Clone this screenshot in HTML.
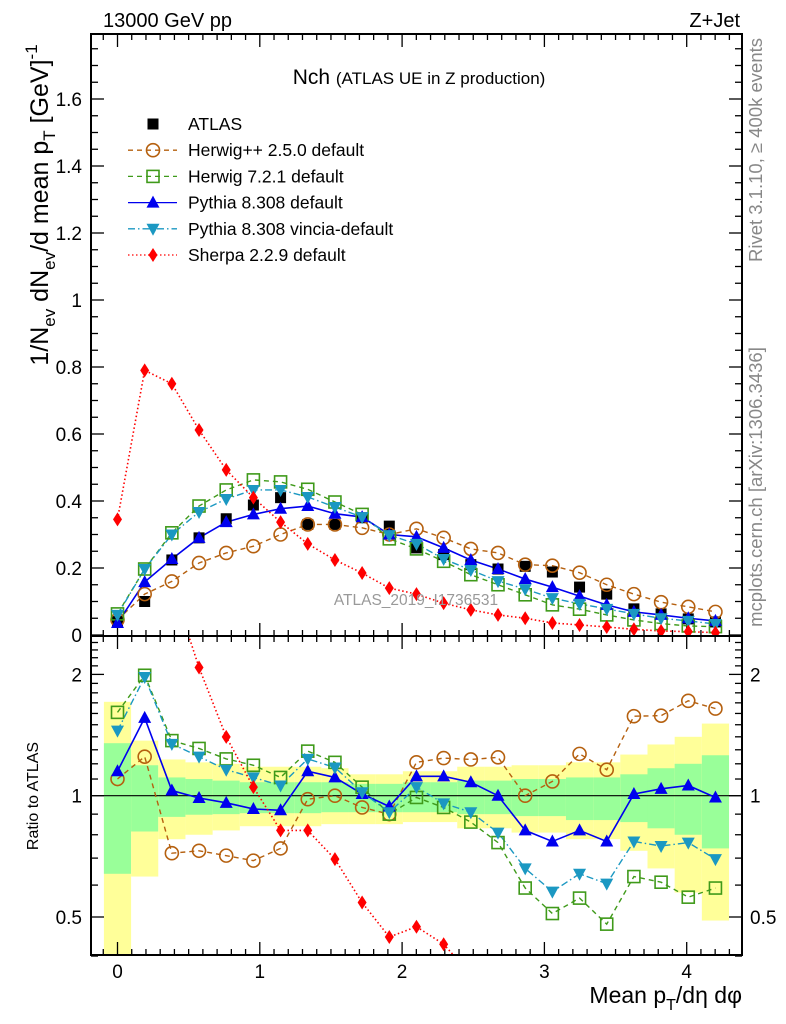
<!DOCTYPE html>
<html><head><meta charset="utf-8"><style>
html,body{margin:0;padding:0;background:#fff;overflow:hidden;width:786px;height:1024px;}
svg{display:block;font-family:"Liberation Sans",Arial,sans-serif;}
</style></head><body>
<svg id="chart" width="786" height="1024" viewBox="0 0 786 1024" xmlns="http://www.w3.org/2000/svg">
<defs>
<clipPath id="clipMain"><rect x="91" y="34" width="651" height="602"/></clipPath>
<clipPath id="clipRatio"><rect x="91" y="636" width="651" height="319"/></clipPath>
</defs>
<g id="bands" clip-path="url(#clipRatio)"></g>
<g id="ticks"></g>
<line x1="91" x2="742" y1="795.7" y2="795.7" stroke="#000" stroke-width="1.2"/>
<g id="series"></g>
<rect x="91" y="34" width="651" height="602" fill="none" stroke="#000" stroke-width="2"/>
<rect x="91" y="636" width="651" height="319" fill="none" stroke="#000" stroke-width="2"/>
<text x="103" y="27" font-size="20">13000 GeV pp</text>
<text x="740" y="27" font-size="20" text-anchor="end">Z+Jet</text>
<text x="419" y="84" font-size="21" text-anchor="middle">Nch <tspan font-size="17">(ATLAS UE in Z production)</tspan></text>
<text x="416" y="605" font-size="15.5" fill="#999" text-anchor="middle">ATLAS_2019_I1736531</text>
<text transform="translate(762,150) rotate(-90)" font-size="18.5" fill="#888" text-anchor="middle">Rivet 3.1.10, ≥ 400k events</text>
<text transform="translate(762,487) rotate(-90)" font-size="18.5" fill="#888" text-anchor="middle">mcplots.cern.ch [arXiv:1306.3436]</text>
<text transform="translate(48,205) rotate(-90)" font-size="25" text-anchor="middle">1/N<tspan font-size="17" dy="7">ev</tspan><tspan dy="-7"> dN</tspan><tspan font-size="17" dy="7">ev</tspan><tspan dy="-7">/d mean p</tspan><tspan font-size="17" dy="7">T</tspan><tspan dy="-7"> [GeV]</tspan><tspan font-size="17" dy="-11">-1</tspan></text>
<text transform="translate(38,796) rotate(-90)" font-size="16" text-anchor="middle">Ratio to ATLAS</text>
<text x="742" y="1003" font-size="23" text-anchor="end">Mean p<tspan font-size="16" dy="7">T</tspan><tspan dy="-7">/dη dφ</tspan></text>
<g id="legend"></g>
</svg>
<script>
const xVals=[0,0.191,0.382,0.573,0.764,0.955,1.146,1.337,1.528,1.719,1.91,2.101,2.292,2.483,2.674,2.865,3.056,3.247,3.438,3.629,3.82,4.011,4.202];
const atlas=[0.04,0.10,0.224,0.29,0.347,0.388,0.41,0.33,0.33,0.35,0.325,0.26,0.24,0.21,0.197,0.205,0.188,0.143,0.122,0.078,0.063,0.048,0.039];
const herwigpp=[0.045,0.122,0.16,0.215,0.245,0.265,0.30,0.33,0.33,0.32,0.30,0.317,0.29,0.257,0.245,0.21,0.207,0.186,0.15,0.122,0.098,0.084,0.069];
const herwig7=[0.063,0.197,0.305,0.385,0.433,0.463,0.457,0.435,0.397,0.36,0.287,0.257,0.22,0.18,0.15,0.12,0.09,0.077,0.06,0.045,0.034,0.027,0.025];
const pythia=[0.036,0.158,0.227,0.29,0.337,0.36,0.377,0.385,0.362,0.352,0.30,0.293,0.26,0.224,0.197,0.167,0.143,0.116,0.09,0.069,0.06,0.05,0.042];
const vincia=[0.06,0.197,0.30,0.367,0.406,0.433,0.433,0.412,0.382,0.352,0.298,0.272,0.227,0.194,0.161,0.137,0.11,0.093,0.078,0.063,0.05,0.042,0.033];
const sherpa=[0.345,0.79,0.75,0.612,0.493,0.41,0.337,0.272,0.224,0.185,0.14,0.122,0.095,0.075,0.06,0.05,0.036,0.03,0.024,0.017,0.012,0.01,0.007];
const ratioHerwigpp=[1.10,1.25,0.72,0.73,0.71,0.69,0.74,0.98,1.0,0.935,0.90,1.21,1.24,1.23,1.245,1.0,1.085,1.27,1.16,1.575,1.58,1.72,1.645];
const ratioHerwig7=[1.61,1.99,1.37,1.31,1.234,1.19,1.11,1.29,1.21,1.05,0.90,0.99,0.935,0.86,0.765,0.59,0.51,0.557,0.48,0.63,0.61,0.56,0.59];
const ratioPythia=[1.15,1.56,1.03,0.987,0.96,0.927,0.92,1.15,1.11,1.01,0.94,1.117,1.117,1.08,1.0,0.82,0.77,0.82,0.77,1.01,1.04,1.06,0.99];
const ratioVincia=[1.45,1.97,1.345,1.25,1.16,1.11,1.06,1.234,1.175,1.02,0.91,1.05,0.957,0.91,0.81,0.66,0.578,0.64,0.605,0.77,0.75,0.765,0.696];
const ratioSherpa=[8.5,7.9,3.35,2.08,1.40,1.05,0.82,0.82,0.696,0.543,0.446,0.473,0.428,0.36,0.30,0.24,0.19,0.21,0.2,0.22,0.19,0.21,0.18];
const bandYellowHi=[1.71,1.37,1.23,1.21,1.2,1.18,1.18,1.18,1.17,1.13,1.13,1.15,1.15,1.18,1.18,1.19,1.19,1.21,1.21,1.265,1.34,1.40,1.51];
const bandYellowLo=[0.3,0.63,0.78,0.80,0.82,0.84,0.84,0.84,0.85,0.85,0.85,0.86,0.86,0.83,0.83,0.81,0.81,0.78,0.78,0.73,0.66,0.575,0.49];
const bandGreenHi=[1.35,1.19,1.11,1.10,1.09,1.08,1.08,1.08,1.08,1.07,1.07,1.08,1.08,1.09,1.09,1.10,1.10,1.11,1.11,1.13,1.17,1.2,1.26];
const bandGreenLo=[0.64,0.815,0.886,0.897,0.90,0.905,0.905,0.905,0.91,0.91,0.91,0.91,0.91,0.90,0.90,0.89,0.89,0.87,0.87,0.86,0.83,0.80,0.74];
const mainTicks=[0,0.2,0.4,0.6,0.8,1,1.2,1.4,1.6];
const mainTickLabels=["0","0.2","0.4","0.6","0.8","1","1.2","1.4","1.6"];
const xTicks=[0,1,2,3,4];
const xTickLabels=["0","1","2","3","4"];
const ratioTicks=[0.5,1,2];
const ratioTickLabels=["0.5","1","2"];

const NS="http://www.w3.org/2000/svg";
const X=v=>117.5+142.3*v;
const YM=v=>635-335*v;
const YR=r=>795.7-121.3*Math.log2(r);
function mk(tag,attrs,parent){const e=document.createElementNS(NS,tag);for(const k in attrs)e.setAttribute(k,attrs[k]);parent.appendChild(e);return e;}
const ticks=document.getElementById('ticks');
const bands=document.getElementById('bands');
const series=document.getElementById('series');
const legend=document.getElementById('legend');

const half=0.0955;
for(let i=0;i<xVals.length;i++){
  const x0=X(xVals[i]-half), w=X(xVals[i]+half)-x0;
  const y=mk('rect',{x:x0,y:YR(bandYellowHi[i]),width:w,height:YR(bandYellowLo[i])-YR(bandYellowHi[i]),fill:'#ffff99'},bands);
  
  
  const g=mk('rect',{x:x0,y:YR(bandGreenHi[i]),width:w,height:YR(bandGreenLo[i])-YR(bandGreenHi[i]),fill:'#99ff99'},bands);
  
  
}

function tl(x1,y1,x2,y2){const l=mk('line',{x1,y1,x2,y2,stroke:'#000','stroke-width':1.3},ticks);}
for(let v=0;v<=1.79;v+=0.05){const y=YM(v);const maj=Math.abs(v/0.2-Math.round(v/0.2))<1e-6;const L=maj?13:7;tl(91,y,91+L,y);tl(742,y,742-L,y);}
mainTicks.forEach((v,i)=>{const t=mk('text',{x:82,y:YM(v)+7,'font-size':19,'text-anchor':'end'},ticks);t.textContent=mainTickLabels[i];});
for(let k=-1;k<=44;k++){const v=k*0.1;const x=X(v);if(x<92||x>741)continue;const maj=k%10===0;const L=maj?13:6;tl(x,34,x,34+L);tl(x,636,x,636-L);tl(x,636,x,636+L);tl(x,955,x,955-L);}
xTicks.forEach((v,i)=>{const t=mk('text',{x:X(v),y:978,'font-size':19,'text-anchor':'middle'},ticks);t.textContent=xTickLabels[i];});
const rminor=[0.4,0.5,0.6,0.7,0.8,0.9,1,1.1,1.2,1.3,1.4,1.5,1.6,1.7,1.8,1.9,2,2.1,2.2,2.3,2.4];
rminor.forEach(r=>{const y=YR(r);const maj=(r===0.5||r===1||r===2);const L=maj?13:7;tl(91,y,91+L,y);tl(742,y,742-L,y);});
ratioTicks.forEach((r,i)=>{let t=mk('text',{x:82,y:YR(r)+7,'font-size':19,'text-anchor':'end'},ticks);t.textContent=ratioTickLabels[i];
 t=mk('text',{x:750,y:YR(r)+7,'font-size':19,'text-anchor':'start'},ticks);t.textContent=ratioTickLabels[i];});

function marker(type,x,y,color,parent){
  let e;
  if(type==='sq') e=mk('rect',{x:x-5.5,y:y-5.5,width:11,height:11,fill:'#000'},parent);
  else if(type==='circ') e=mk('circle',{cx:x,cy:y,r:6.5,fill:'none',stroke:color,'stroke-width':1.6},parent);
  else if(type==='osq') e=mk('rect',{x:x-6,y:y-6,width:12,height:12,fill:'none',stroke:color,'stroke-width':1.6},parent);
  else if(type==='tri') e=mk('polygon',{points:`${x},${y-7} ${x-6.5},${y+5} ${x+6.5},${y+5}`,fill:color},parent);
  else if(type==='itri') e=mk('polygon',{points:`${x},${y+7} ${x-6.5},${y-5} ${x+6.5},${y-5}`,fill:color},parent);
  else if(type==='dia') e=mk('polygon',{points:`${x},${y-7} ${x-4.5},${y} ${x},${y+7} ${x+4.5},${y}`,fill:color},parent);
  return e;
}
const gm=mk('g',{'clip-path':'url(#clipMain)'},series);


const gr=mk('g',{'clip-path':'url(#clipRatio)'},series);


const defs=[
 {name:'herwigpp',vals:herwigpp,ratio:ratioHerwigpp,color:'#b5600f',dash:'5,4',m:'circ',w:1.4},
 {name:'herwig7',vals:herwig7,ratio:ratioHerwig7,color:'#3f9a1a',dash:'5,4',m:'osq',w:1.4},
 {name:'pythia',vals:pythia,ratio:ratioPythia,color:'#0000ee',dash:'',m:'tri',w:1.6},
 {name:'vincia',vals:vincia,ratio:ratioVincia,color:'#1b98c2',dash:'7,3,1.5,3',m:'itri',w:1.4},
 {name:'sherpa',vals:sherpa,ratio:ratioSherpa,color:'#ff0000',dash:'1.5,2.5',m:'dia',w:1.6}
];
defs.forEach(d=>{
  const pm=mk('polyline',{points:xVals.map((x,i)=>X(x)+','+YM(d.vals[i])).join(' '),fill:'none',stroke:d.color,'stroke-width':d.w,'stroke-dasharray':d.dash},gm);
  
  
  const pr=mk('polyline',{points:xVals.map((x,i)=>X(x)+','+YR(d.ratio[i])).join(' '),fill:'none',stroke:d.color,'stroke-width':d.w,'stroke-dasharray':d.dash},gr);
  
  
});
xVals.forEach((x,i)=>{
  const e=marker('sq',X(x),YM(atlas[i]),'#000',gm);
  
  
});
defs.forEach(d=>{
  xVals.forEach((x,i)=>{
    const e=marker(d.m,X(x),YM(d.vals[i]),d.color,gm);
    
    
    const r=marker(d.m,X(x),YR(d.ratio[i]),d.color,gr);
    
    
  });
});

const labels=['ATLAS','Herwig++ 2.5.0 default','Herwig 7.2.1 default','Pythia 8.308 default','Pythia 8.308 vincia-default','Sherpa 2.2.9 default'];
labels.forEach((lab,i)=>{
  const y=124+i*26.2;
  const g=mk('g',{},legend);
  
  
  if(i===0){marker('sq',153,y,'#000',g);}
  else{const d=defs[i-1];mk('line',{x1:128,x2:177,y1:y,y2:y,stroke:d.color,'stroke-width':1.3,'stroke-dasharray':d.dash},g);marker(d.m,153,y,d.color,g);}
  const t=mk('text',{x:188,y:y+6,'font-size':17.5},g);t.textContent=lab;
});
</script>
</body></html>
